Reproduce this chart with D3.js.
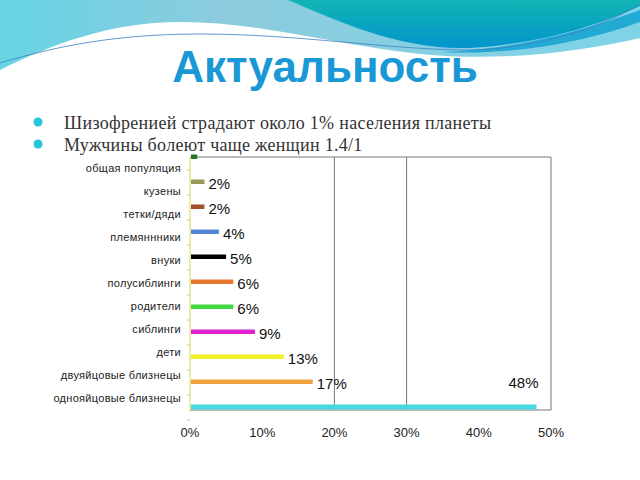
<!DOCTYPE html>
<html><head><meta charset="utf-8">
<script src="https://cdn.jsdelivr.net/npm/d3@7"></script>
<style>body{margin:0;background:#fff}svg{display:block}</style>
</head><body><svg id="c" width="640" height="480"></svg>
<script>
const categories = ["общая популяция","кузены","тетки/дяди","племяннники","внуки","полусиблинги","родители","сиблинги","дети","двуяйцовые близнецы","однояйцовые близнецы"];
const values = [1,2,2,4,5,6,6,9,13,17,48];
const showLabel = [false,true,true,true,true,true,true,true,true,true,true];
const barColors = ["#1f7a2a","#9c9a55","#a0522d","#5585d8","#000000","#e8782e","#44d844","#e020d0","#f2f226","#f0a040","#44d8e0"];
const xTicks = [0,10,20,30,40,50];
const gridAt = [20,30];
const title = "Актуальность";
const bullets = ["Шизофренией страдают около 1% населения планеты","Мужчины болеют чаще женщин 1.4/1"];

const rows = categories.map((c,i)=>({c, v:values[i], show:showLabel[i], col:barColors[i], i}));

const svg = d3.select("#c");
// decoration
const defs = svg.append("defs");
const g1 = defs.append("linearGradient").attr("id","lb").attr("x1","0").attr("x2","1").attr("y1","0").attr("y2","0");
g1.append("stop").attr("offset","0").attr("stop-color","#66d4e4");
g1.append("stop").attr("offset","0.35").attr("stop-color","#8ccbde");
g1.append("stop").attr("offset","1").attr("stop-color","#7fd3e6");
const g2 = defs.append("linearGradient").attr("id","tl").attr("x1","0").attr("x2","0").attr("y1","0").attr("y2","1");
g2.append("stop").attr("offset","0").attr("stop-color","#12b5b5");
g2.append("stop").attr("offset","1").attr("stop-color","#0394cc");
svg.append("path").attr("d","M0,0 H640 V38 C580,52 500,62 420,54 C330,44 260,22 180,22 C110,22 50,45 0,70 Z").attr("fill","url(#lb)");
svg.append("path").attr("d","M288,0 H640 V6 C600,25 540,44 470,48 C400,50 340,22 288,0 Z").attr("fill","url(#tl)");
svg.append("path").attr("d","M440,52 C520,50 590,28 640,10 V22 C590,40 520,56 440,52 Z").attr("fill","#0aa0d0").attr("opacity",0.8);
svg.append("path").attr("d","M0,63 C60,45 120,34 200,34 C300,34 390,50 470,50 C550,48 610,22 640,4").attr("fill","none").attr("stroke","#3f7fc0").attr("stroke-width",0.8);

svg.append("text").attr("x",325).attr("y",82).attr("text-anchor","middle")
  .attr("font-family","Liberation Sans, Arial, sans-serif").attr("font-weight","bold").attr("font-size",44)
  .attr("fill","#1a98d6").text(title);

bullets.forEach((b,i)=>{
  svg.append("circle").attr("cx",38).attr("cy",122+i*22).attr("r",4.5).attr("fill","#25c6da");
  svg.append("text").attr("x",64).attr("y",129+i*22).attr("font-family","Liberation Serif, DejaVu Serif, serif")
    .attr("font-size",18).attr("letter-spacing",0.3).attr("fill","#333").text(b);
});

// chart
const x = d3.scaleLinear().domain([0,50]).range([190,551]);
const yb = d3.scaleBand().domain(categories).range([144.5,419.5]);
const yl = d3.scalePoint().domain(categories).range([168,398]);

// frame
svg.append("line").attr("x1",x(0)).attr("x2",x(50)).attr("y1",157).attr("y2",157).attr("stroke","#777");
svg.append("line").attr("x1",x(50)).attr("x2",x(50)).attr("y1",157).attr("y2",410).attr("stroke","#777");
svg.append("line").attr("x1",x(0)).attr("x2",x(50)).attr("y1",410).attr("y2",410).attr("stroke","#777");
svg.selectAll(".grid").data(gridAt).join("line").attr("x1",d=>x(d)).attr("x2",d=>x(d)).attr("y1",157).attr("y2",410).attr("stroke","#777");

// left axis
svg.append("line").attr("x1",190).attr("x2",190).attr("y1",157).attr("y2",412).attr("stroke","#e6e68c").attr("stroke-width",1.5);
svg.selectAll(".tk").data(categories).join("line").attr("x1",187).attr("x2",190)
  .attr("y1",d=>yb(d)+yb.bandwidth()+0.5).attr("y2",d=>yb(d)+yb.bandwidth()+0.5).attr("stroke","#cccc88");

svg.selectAll(".cat").data(categories).join("text").attr("x",181).attr("y",d=>yl(d)).attr("dy","0.35em")
  .attr("text-anchor","end").attr("font-family","Liberation Sans, Arial, sans-serif").attr("font-size",11)
  .attr("letter-spacing",0.3).attr("fill","#222").text(d=>d);

svg.selectAll(".bar").data(rows).join("rect")
  .attr("x",x(0)+1).attr("y",d=>yb(d.c)+yb.bandwidth()/2-2.5)
  .attr("width",d=>x(d.v)-x(0)-1).attr("height",d=>d.v>40?5:4.5).attr("fill",d=>d.col);

svg.selectAll(".vl").data(rows.filter(d=>d.show)).join("text")
  .attr("x",d=>d.v>40?x(d.v)+2:x(d.v)+4).attr("y",d=>yb(d.c)+yb.bandwidth()/2+(d.v>40?-24:1.5))
  .attr("dy","0.35em").attr("text-anchor",d=>d.v>40?"end":"start")
  .attr("font-family","Liberation Sans, Arial, sans-serif").attr("font-size",15).attr("fill","#111")
  .text(d=>d.v+"%");

svg.selectAll(".xt").data(xTicks).join("text").attr("x",d=>x(d)).attr("y",432).attr("dy","0.35em")
  .attr("text-anchor","middle").attr("font-family","Liberation Sans, Arial, sans-serif").attr("font-size",13)
  .attr("fill","#222").text(d=>d+"%");
</script></body></html>
